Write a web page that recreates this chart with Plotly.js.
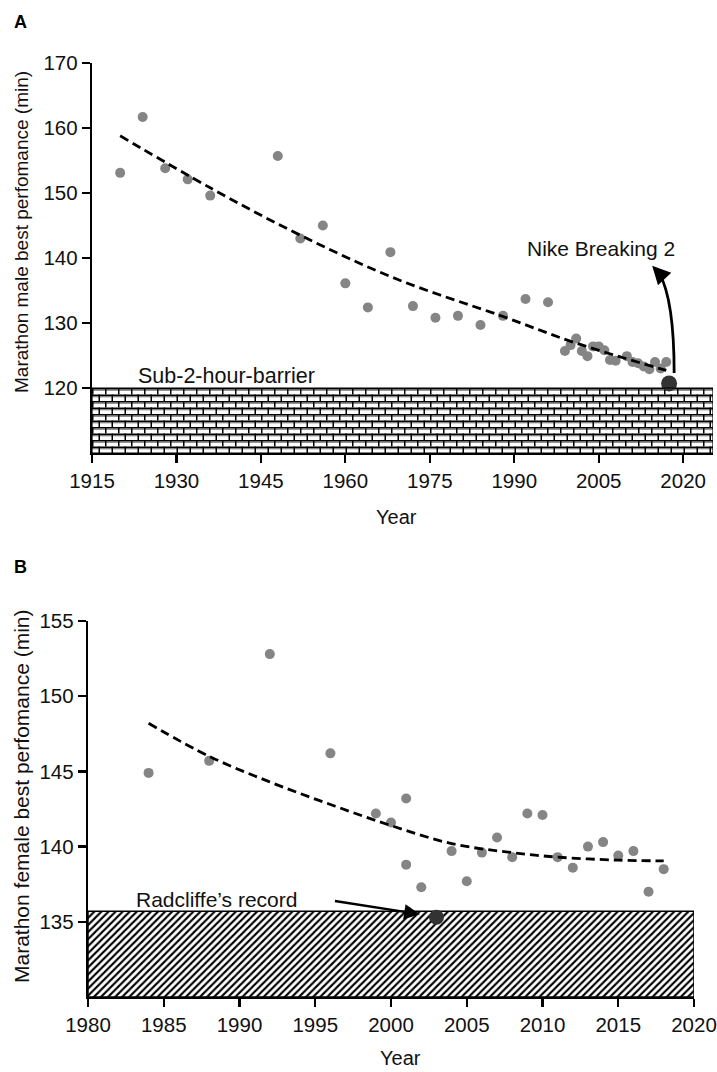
<!DOCTYPE html>
<html>
<head>
<meta charset="utf-8">
<script src="https://cdn.plot.ly/plotly-3.0.1.min.js"></script>
<style>html,body{margin:0;padding:0;background:#fff;}#chart{width:717px;height:1072px;}</style>
</head>
<body>
<div id="chart"></div>
<script>
// ---- Panel A: male marathon best performance ----
const maleYears = [1920,1924,1928,1932,1936,1948,1952,1956,1960,1964,1968,1972,1976,1980,1984,1988,1992,1996,
  1999,2000,2001,2002,2003,2004,2005,2006,2007,2008,2010,2011,2012,2013,2014,2015,2016,2017];
const maleTimes = [153.1,161.7,153.8,152.1,149.6,155.7,143.0,145.0,136.1,132.4,140.9,132.6,130.8,131.1,129.7,131.1,133.7,133.2,
  125.7,126.6,127.6,125.7,124.9,126.4,126.4,125.8,124.3,124.2,124.9,124.0,123.8,123.3,122.9,124.0,123.0,124.0];
const maleTrendYears = [1920,1936,1952,1969,1988,2001,2017];
const maleTrendTimes = [158.8,150.8,143.5,136.8,131.0,126.9,122.7];
const nikeYear = [2017.5];
const nikeTime = [120.7];
const sub2Barrier = 120;
const maleXTicks = [1915,1930,1945,1960,1975,1990,2005,2020];
const maleYTicks = [120,130,140,150,160,170];

// ---- Panel B: female marathon best performance ----
const femaleYears = [1984,1988,1992,1996,1999,2000,2001,2001,2002,2004,2005,2006,2007,2008,2009,2010,2011,2012,2013,2014,2015,2016,2017,2018];
const femaleTimes = [144.9,145.7,152.8,146.2,142.2,141.6,143.2,138.8,137.3,139.7,137.7,139.6,140.6,139.3,142.2,142.1,139.3,138.6,140.0,140.3,139.4,139.7,137.0,138.5];
const femaleTrendYears = [1984,1988,1992,1996,2000,2004,2008,2011,2015,2018];
const femaleTrendTimes = [148.2,146.0,144.3,142.8,141.4,140.2,139.6,139.3,139.1,139.05];
const radcliffeYear = [2003];
const radcliffeTime = [135.3];
const radcliffeLevel = 135.7;
const femaleXTicks = [1980,1985,1990,1995,2000,2005,2010,2015,2020];
const femaleYTicks = [135,140,145,150,155];

const W = 717, H = 1072;
const FONT = 'Liberation Sans, Arial, Helvetica, sans-serif';
const xA = [1915, 2025.3], yA = [110, 170];
const xB = [1980, 2020], yB = [130, 155];

// brick pattern as an SVG picture, stretched over the sub-2-hour region
function brickSVG(w, h) {
  const s = '<svg xmlns="http://www.w3.org/2000/svg" width="'+w+'" height="'+h+'" viewBox="0 0 '+w+' '+h+'" preserveAspectRatio="none">'+
    '<defs><pattern id="b" width="13" height="13" patternUnits="userSpaceOnUse">'+
    '<rect width="13" height="13" fill="#fff"/>'+
    '<rect x="0" y="0" width="13" height="1.6" fill="#000"/>'+
    '<rect x="0" y="1.6" width="13" height="1.2" fill="#7a7a7a"/>'+
    '<rect x="0" y="6.5" width="13" height="1.6" fill="#000"/>'+
    '<rect x="0" y="8.1" width="13" height="1.2" fill="#7a7a7a"/>'+
    '<rect x="0" y="0" width="1.5" height="6.5" fill="#000"/>'+
    '<rect x="6.5" y="6.5" width="1.5" height="6.5" fill="#000"/>'+
    '</pattern></defs><rect x="0" y="0" width="'+w+'" height="'+h+'" fill="url(#b)"/></svg>';
  return 'data:image/svg+xml;charset=utf-8,' + encodeURIComponent(s);
}

const grey = '#858585';
const dark = '#333333';

const traces = [
  {x: maleYears, y: maleTimes, xaxis:'x', yaxis:'y', type:'scatter', mode:'markers',
   marker:{color:grey, size:10}, hoverinfo:'skip'},
  {x: maleTrendYears, y: maleTrendTimes, xaxis:'x', yaxis:'y', type:'scatter', mode:'lines',
   line:{color:'#000', width:2.8, dash:'9px,5px', shape:'spline', smoothing:1}, hoverinfo:'skip'},
  {x: nikeYear, y: nikeTime, xaxis:'x', yaxis:'y', type:'scatter', mode:'markers',
   marker:{color:dark, size:16}, hoverinfo:'skip', cliponaxis:false},
  {x: [(xB[0]+xB[1])/2], y: [radcliffeLevel - yB[0]], base: [yB[0]], width: [xB[1]-xB[0]],
   xaxis:'x2', yaxis:'y2', type:'bar',
   marker:{color:'#fff', line:{color:'#000', width:1.5},
     pattern:{shape:'/', size:5, solidity:0.42, fgcolor:'#000', bgcolor:'#fff'}}, hoverinfo:'skip'},
  {x: femaleYears, y: femaleTimes, xaxis:'x2', yaxis:'y2', type:'scatter', mode:'markers',
   marker:{color:grey, size:10}, hoverinfo:'skip'},
  {x: femaleTrendYears, y: femaleTrendTimes, xaxis:'x2', yaxis:'y2', type:'scatter', mode:'lines',
   line:{color:'#000', width:2.8, dash:'9px,5px', shape:'spline', smoothing:1}, hoverinfo:'skip'},
  {x: radcliffeYear, y: radcliffeTime, xaxis:'x2', yaxis:'y2', type:'scatter', mode:'markers',
   marker:{color:dark, size:15}, hoverinfo:'skip', cliponaxis:false}
];

function axis(domain, range, ticks, anchor) {
  return {domain: domain, range: range, anchor: anchor, tickvals: ticks, ticktext: ticks.map(String),
    showline:true, linecolor:'#000', linewidth:2.2, ticks:'outside', ticklen:8, tickwidth:2.2, tickcolor:'#000',
    showgrid:false, zeroline:false, fixedrange:true, tickfont:{family:FONT, size:20.5, color:'#111'}};
}

const layout = {
  width: W, height: H,
  margin: {l:0, r:0, t:0, b:0, pad:0},
  paper_bgcolor:'#fff', plot_bgcolor:'rgba(0,0,0,0)',
  showlegend:false,
  font:{family:FONT, color:'#111'},
  xaxis: axis([92/W, 713/W], xA, maleXTicks, 'y'),
  yaxis: axis([1-453/H, 1-63/H], yA, maleYTicks, 'x'),
  xaxis2: axis([88/W, 694/W], xB, femaleXTicks, 'y2'),
  yaxis2: axis([1-997/H, 1-621/H], yB, femaleYTicks, 'x2'),
  images: [{
    source: brickSVG(621, 65), xref:'x', yref:'y', x: xA[0], y: sub2Barrier,
    sizex: xA[1]-xA[0], sizey: sub2Barrier - yA[0], sizing:'stretch',
    xanchor:'left', yanchor:'top', layer:'below'
  }],
  shapes: [
    {type:'rect', xref:'x', yref:'y', x0:xA[0], x1:xA[1], y0:yA[0], y1:sub2Barrier, line:{color:'#000', width:1.2}},
    {type:'path', xref:'x', yref:'y', path:'M 2018.4,122.3 Q 2018.4,133.5 2015.8,137.6', line:{color:'#000', width:2.8}}
  ],
  annotations: [
    {text:'<b>A</b>', xref:'paper', yref:'paper', x:12/W, y:1-22/H, xanchor:'left', yanchor:'middle', showarrow:false, font:{size:18, color:'#000'}},
    {text:'<b>B</b>', xref:'paper', yref:'paper', x:12/W, y:1-567/H, xanchor:'left', yanchor:'middle', showarrow:false, font:{size:18, color:'#000'}},
    {text:'Marathon male best perfomance (min)', xref:'paper', yref:'paper', x:22/W, y:1-232/H, textangle:-90,
     xanchor:'center', yanchor:'middle', showarrow:false, font:{size:19, color:'#111'}},
    {text:'Marathon female best perfomance (min)', xref:'paper', yref:'paper', x:21/W, y:1-796/H, textangle:-90,
     xanchor:'center', yanchor:'middle', showarrow:false, font:{size:21, color:'#111'}},
    {text:'Year', xref:'paper', yref:'paper', x:397/W, y:1-517/H, xanchor:'center', yanchor:'middle', showarrow:false, font:{size:20, color:'#111'}},
    {text:'Year', xref:'paper', yref:'paper', x:400/W, y:1-1058/H, xanchor:'center', yanchor:'middle', showarrow:false, font:{size:20, color:'#111'}},
    {text:'Sub-2-hour-barrier', xref:'x', yref:'y', x:1938.9, y:121.85, xanchor:'center', yanchor:'middle', showarrow:false, font:{size:21.5, color:'#111'}},
    {text:'Nike Breaking 2', xref:'x', yref:'y', x:2005.4, y:141.4, xanchor:'center', yanchor:'middle', showarrow:false, font:{size:21, color:'#111'}},
    {text:'Radcliffe\u2019s record', xref:'x2', yref:'y2', x:1988.5, y:136.45, xanchor:'center', yanchor:'middle', showarrow:false, font:{size:21, color:'#111'}},
    {text:'', xref:'x', yref:'y', x:2014.5, y:138.8, axref:'x', ayref:'y', ax:2015.8, ay:137.6,
     showarrow:true, arrowhead:2, arrowsize:1.3, arrowwidth:2.8, arrowcolor:'#000', standoff:0},
    {text:'', xref:'x2', yref:'y2', x:2001.9, y:135.5, axref:'x2', ayref:'y2', ax:1996.2, ay:136.4,
     showarrow:true, arrowhead:2, arrowsize:1.3, arrowwidth:2.4, arrowcolor:'#000', standoff:0}
  ]
};

Plotly.newPlot('chart', traces, layout, {displayModeBar:false, staticPlot:true});
</script>
</body>
</html>
